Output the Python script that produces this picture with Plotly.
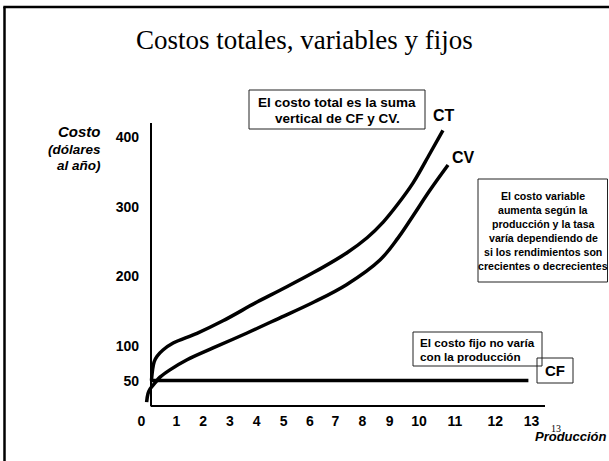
import plotly.graph_objects as go

# ---------------- data ----------------
ct_x = [0.03, 0.07, 0.13, 0.24, 0.46, 0.84, 1.73, 2.70, 3.97, 4.83, 6.06, 7.33, 8.08, 8.68, 9.20, 9.79, 10.43, 10.91]
ct_y = [50, 65, 77, 85, 94, 104, 118, 136, 163, 180, 205, 234, 255.5, 278, 302.5, 334, 377, 410]

cv_x = [-0.15, -0.10, -0.02, 0.16, 0.35, 0.72, 1.36, 2.33, 3.60, 4.81, 6.04, 7.31, 8.56, 9.23, 9.76, 10.43, 11.10]
cv_y = [19, 31, 38, 46.6, 55, 65.5, 80, 97, 118.5, 140, 162, 188, 223.5, 255, 285, 324, 360]

cf_x = [0, 14.1]
cf_y = [50, 50]

x_tick_labels = ["0", "1", "2", "3", "4", "5", "6", "7", "8", "9", "10", "11", "12", "13"]
y_tick_values = [50, 100, 200, 300, 400]
y_tick_labels = ["50", "100", "200", "300", "400"]

# ---------------- layout constants ----------------
x_tick_pos = [-0.35, 0.96, 1.96, 2.96, 3.96, 4.96, 5.94, 6.9, 7.9, 8.92, 10.02, 11.36, 12.86, 14.22]
X_RANGE = [-0.36, 14.72]
Y_RANGE = [13.5, 420.5]
W, H = 609, 461
ML, MR, MT, MB = 141, 64, 123, 55
PW, PH = W - ML - MR, H - MT - MB

SANS = "Liberation Sans, Arial, sans-serif"
SERIF = "Liberation Serif, Times New Roman, serif"


def px(x):
    return (x - ML) / PW


def py(y):
    return (H - MB - y) / PH


fig = go.Figure()
line_style = dict(color="black", width=3.5)
fig.add_trace(go.Scatter(x=ct_x, y=ct_y, mode="lines", line=dict(**line_style, shape="spline", smoothing=1),
                         name="CT", hoverinfo="skip"))
fig.add_trace(go.Scatter(x=cv_x, y=cv_y, mode="lines", line=dict(**line_style, shape="spline", smoothing=1),
                         name="CV", hoverinfo="skip"))
fig.add_trace(go.Scatter(x=cf_x, y=cf_y, mode="lines", line=line_style, name="CF", hoverinfo="skip"))

annotations = []


def txt(x, y, text, size, family=SANS, weight="bold", style="normal", xanchor="center"):
    annotations.append(dict(
        xref="paper", yref="paper", x=px(x), y=py(y), text=text, showarrow=False,
        xanchor=xanchor, yanchor="middle", borderpad=0,
        font=dict(family=family, size=size, color="black", weight=weight, style=style)))


# title
txt(304.5, 40, "Costos totales, variables y fijos", 27, family=SERIF, weight="normal")
# y-axis title
txt(102, 131.7, "Costo", 15, style="italic", xanchor="right")
txt(102, 149, "(dólares", 13.5, style="italic", xanchor="right")
txt(102, 165, "al año)", 13.5, style="italic", xanchor="right")
# x-axis title and page number
txt(608, 437, "Producción", 13, style="italic", xanchor="right")
txt(556, 428, "13", 10, family=SERIF, weight="normal")
# box 1
txt(337, 103, "El costo total es la suma", 13.5)
txt(337, 119, "vertical de CF y CV.", 13.5)
# curve labels
txt(444, 115, "CT", 16)
txt(463, 157, "CV", 16)
txt(555, 370.5, "CF", 15)
# box 2
box2_lines = ["El costo variable", "aumenta según la", "producción y la tasa",
              "varía dependiendo de", "si los rendimientos son", "crecientes o decrecientes"]
for i, s in enumerate(box2_lines):
    txt(543, 196 + 14 * i, s, 10.6)
# box 3
txt(419, 342.5, "El costo fijo no varía", 11.7, xanchor="left")
txt(419, 356, "con la producción", 11.7, xanchor="left")

shapes = []


def rect(x0, y0, x1, y1):
    shapes.append(dict(type="rect", xref="paper", yref="paper", x0=px(x0), x1=px(x1), y0=py(y0), y1=py(y1),
                       line=dict(color="#222222", width=1), fillcolor="rgba(0,0,0,0)", layer="above"))


rect(249, 90, 425, 129)
rect(478, 179, 607.5, 282)
rect(413, 332, 542, 366)
rect(537, 358, 573, 383)

# slide frame (top and left edges)
shapes.append(dict(type="line", xref="paper", yref="paper", x0=px(4.5), x1=px(4.5), y0=py(7), y1=py(470),
                   line=dict(color="black", width=2.5)))
shapes.append(dict(type="line", xref="paper", yref="paper", x0=px(3.3), x1=px(615), y0=py(7), y1=py(7),
                   line=dict(color="black", width=2.5)))
# x-axis line starting at the y axis
shapes.append(dict(type="line", xref="x", yref="paper", x0=0, x1=X_RANGE[1], y0=0, y1=0,
                   line=dict(color="black", width=2.2)))

fig.update_layout(
    width=W, height=H,
    margin=dict(l=ML, r=MR, t=MT, b=MB, pad=0),
    paper_bgcolor="white", plot_bgcolor="white",
    showlegend=False,
    annotations=annotations,
    shapes=shapes,
    xaxis=dict(range=X_RANGE, tickvals=x_tick_pos, ticktext=x_tick_labels, showgrid=False,
               zeroline=True, zerolinecolor="black", zerolinewidth=2.2, showline=False,
               ticks="", ticklabelstandoff=5,
               tickfont=dict(family=SANS, size=14, color="black", weight="bold")),
    yaxis=dict(range=Y_RANGE, tickvals=y_tick_values, ticktext=y_tick_labels, showgrid=False,
               zeroline=False, showline=False, ticks="", ticklabelstandoff=1,
               tickfont=dict(family=SANS, size=14, color="black", weight="bold")),
)

fig.write_html(
    "out.html",
    config={"displayModeBar": False},
    post_script="document.body.style.margin='0';document.body.style.overflow='hidden';",
)
